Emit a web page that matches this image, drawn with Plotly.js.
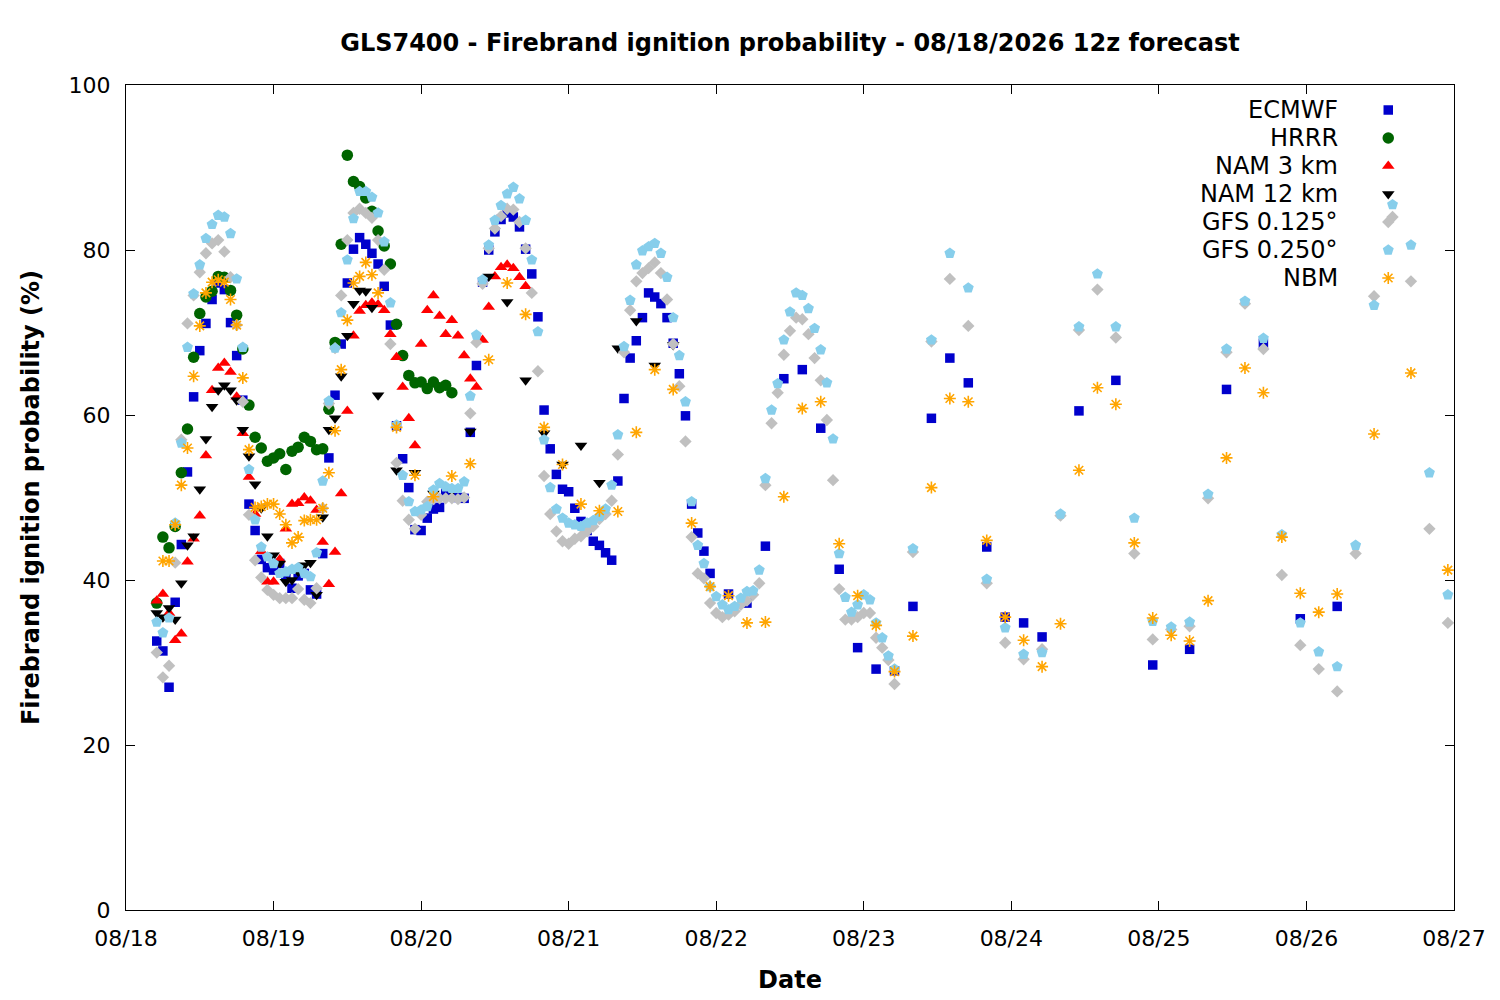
<!DOCTYPE html>
<html><head><meta charset="utf-8">
<script src="https://cdn.plot.ly/plotly-3.0.1.min.js"></script>
<style>html,body{margin:0;padding:0;background:#fff}</style>
</head><body><div id="chart" style="width:1500px;height:1000px"></div>
<script>
// Run start (08/18/2026 12z) expressed in the axis' local time
const RUN_START = Date.UTC(2026, 7, 18, 5, 0, 0);
function span(a, b, s) { const r = []; for (let h = a; h <= b; h += s) r.push(h); return r; }

const SERIES_NAMES = ['ECMWF', 'HRRR', 'NAM 3 km', 'NAM 12 km', 'GFS 0.125°', 'GFS 0.250°', 'NBM'];
const X_TICK_LABELS = ['08/18','08/19','08/20','08/21','08/22','08/23','08/24','08/25','08/26','08/27'];
const Y_TICKS = [0, 20, 40, 60, 80, 100];

// forecast hours for each model
const ECMWF_HOURS = [...span(0, 90, 1), ...span(93, 144, 3), ...span(150, 192, 6)];
const HRRR_HOURS = span(0, 48, 1);
const NAM3_HOURS = span(0, 60, 1);
const NAM12_HOURS = [...span(0, 36, 1), ...span(39, 84, 3)];
const GFS125_HOURS = [...span(0, 120, 1), ...span(123, 210, 3)];
const GFS250_HOURS = [...span(0, 120, 1), ...span(123, 210, 3)];
const NBM_HOURS = [...span(1, 36, 1), ...span(39, 192, 3), ...span(198, 210, 6)];

// ignition probability (%)
const ECMWF = [32.6,31.4,27.0,37.3,44.3,53.1,62.2,67.8,71.1,74.0,76.0,75.2,71.2,67.2,61.8,49.2,46.0,42.5,41.5,41.2,
  42.0,40.5,39.0,40.5,40.8,38.8,38.3,43.2,54.8,62.4,68.6,76.0,80.1,81.5,80.7,79.6,78.3,75.6,70.9,58.7,
  54.7,51.2,46.1,46.0,47.5,48.6,48.8,50.5,50.6,50.0,49.9,57.9,66.0,76.1,80.0,82.2,83.7,84.5,84.0,82.8,
  80.1,77.1,71.9,60.6,55.9,52.8,51.0,50.7,48.7,47.1,46.0,44.7,44.2,43.3,42.4,52.0,62.0,66.9,69.0,71.8,
  74.8,74.3,73.5,71.8,68.7,65.0,59.9,49.2,45.7,43.5,40.8,
  38.3,37.2,44.1,64.4,65.5,58.4,41.3,31.8,29.2,29.0,36.8,59.6,66.9,63.9,44.0,35.5,34.8,33.1,
  60.5,64.2,29.7,31.6,63.1,68.7,35.3,36.8];
const HRRR = [37.2,45.2,43.9,46.5,53.0,58.3,67.0,72.3,74.3,75.0,76.8,76.7,75.1,72.1,68.0,61.2,57.3,56.0,54.4,54.8,
  55.3,53.4,55.6,56.1,57.3,56.8,55.8,55.9,60.7,68.8,80.7,91.5,88.3,87.7,86.3,84.7,82.3,80.5,78.3,71.0,
  67.2,64.8,63.9,64.0,63.2,64.0,63.3,63.6,62.7];
const NAM3 = [37.5,38.3,36.0,32.7,33.5,42.2,45.0,47.8,55.1,63.0,65.7,66.3,65.2,62.2,57.8,52.5,48.0,43.5,39.8,39.8,
  42.5,46.2,49.2,49.3,50.0,49.6,48.5,44.6,39.5,43.4,50.5,60.5,69.6,72.6,73.3,73.6,73.4,72.7,69.8,67.0,
  63.4,59.6,56.3,68.6,72.7,74.5,72.0,69.8,71.5,69.6,67.2,64.4,63.4,69.1,73.1,76.8,77.9,78.2,77.8,76.7,75.6];
const NAM12 = [36.0,35.5,36.6,35.2,39.6,44.2,45.3,51.0,57.1,61.0,63.0,63.6,63.0,61.8,58.2,55.0,51.6,48.7,45.3,43.0,
  42.0,39.8,40.0,41.0,41.8,42.1,38.2,47.6,58.2,59.6,64.7,69.6,73.5,75.1,75.0,73.0,62.4,
  53.3,53.0,50.5,50.8,58.0,76.8,73.7,64.2,57.8,54.0,56.3,51.8,68.1,71.4,66.0,68.5];
const GFS125 = [31.2,28.2,29.6,42.1,57.0,71.1,74.5,77.3,79.6,80.8,81.2,79.8,76.7,70.9,61.6,47.9,42.4,40.3,38.8,38.2,
  37.8,37.8,37.8,38.9,37.6,37.2,39.0,48.7,61.4,68.1,74.5,81.2,84.5,85.0,84.5,83.9,81.2,77.6,68.6,54.2,
  49.6,47.3,46.2,47.9,49.5,49.8,49.9,49.9,49.9,49.8,50.0,60.2,68.8,75.9,80.2,82.6,84.1,85.0,84.9,83.4,
  80.2,74.8,65.3,52.6,48.0,45.9,44.7,44.4,45.0,45.3,45.9,46.5,47.4,48.0,49.6,55.2,67.6,72.7,76.2,77.2,
  77.8,78.5,77.2,74.0,68.6,63.5,56.8,45.2,40.8,40.2,37.2,36.0,35.5,35.8,36.2,37.0,37.5,38.2,39.6,51.5,
  59.0,62.7,67.3,70.2,71.8,71.6,69.8,66.9,64.2,59.4,52.1,38.9,35.2,35.2,35.5,36.0,36.0,33.0,31.8,30.3,27.4,
  43.4,68.9,76.5,70.8,39.6,32.4,30.4,31.6,47.8,70.3,75.2,69.4,43.2,32.8,34.0,34.4,49.9,67.6,73.5,68.0,
  40.6,32.1,29.2,26.5,43.2,74.4,84.0,76.2,46.2,34.8];
const GFS250 = [34.9,33.6,35.4,46.9,56.6,68.2,74.7,78.2,81.4,83.1,84.2,84.0,82.0,76.5,68.2,53.4,47.3,44.0,42.8,42.0,
  40.8,41.0,41.3,41.5,40.8,40.4,43.3,52.0,61.7,68.1,72.4,78.8,83.8,87.1,87.1,86.4,84.5,81.0,73.6,58.8,
  52.7,49.5,48.3,48.5,48.9,50.9,51.7,51.3,51.1,51.1,51.9,62.3,69.7,76.4,80.6,83.6,85.4,86.8,87.6,86.2,
  83.6,78.8,70.1,57.0,51.2,48.6,47.5,46.9,46.7,46.5,46.9,47.2,47.7,48.6,51.5,57.6,68.3,73.9,78.2,79.9,
  80.4,80.8,79.6,76.7,71.8,67.2,61.6,49.5,44.2,42.0,39.2,38.0,37.0,36.4,36.8,37.8,38.6,38.7,41.2,52.3,
  60.6,63.8,69.1,72.5,74.8,74.5,72.9,70.5,67.9,63.9,57.1,43.2,37.9,36.1,37.0,38.2,37.6,34.8,33.0,30.8,29.2,
  43.8,69.1,79.6,75.4,40.1,34.2,31.0,31.2,48.0,70.7,77.1,70.7,47.5,35.0,34.3,34.9,50.4,68.0,73.8,69.3,
  45.5,34.8,31.3,29.5,44.2,73.3,85.5,80.6,53.0,38.2];
const NBM = [42.3,42.3,46.7,51.5,56.0,64.7,70.8,74.8,76.1,76.4,76.1,74.0,70.9,64.5,55.8,48.8,48.9,49.2,49.2,48.0,
  46.7,44.5,45.2,47.2,47.3,47.3,48.7,53.0,58.1,65.5,71.5,76.0,76.8,78.5,77.0,74.8,
  58.5,52.7,50.1,52.6,54.1,66.7,76.0,72.2,58.5,54.0,49.2,48.4,48.3,57.9,65.5,63.1,46.9,39.2,38.1,34.8,
  34.9,50.1,60.8,61.6,44.4,38.1,34.5,28.9,33.2,51.2,62.0,61.6,44.8,35.5,32.7,29.5,34.7,53.3,63.3,61.3,
  44.5,35.4,33.3,32.6,37.5,54.8,65.7,62.7,45.2,38.4,36.1,38.3,
  57.7,65.1,41.2];

const HOURS = [ECMWF_HOURS, HRRR_HOURS, NAM3_HOURS, NAM12_HOURS, GFS125_HOURS, GFS250_HOURS, NBM_HOURS];
const VALUES = [ECMWF, HRRR, NAM3, NAM12, GFS125, GFS250, NBM];

const STYLES = [
  {symbol: 'square', size: 9.5, color: '#0000cc'},
  {symbol: 'circle', size: 11.5, color: '#006400'},
  {symbol: 'triangle-up', size: 11, color: '#ff0000'},
  {symbol: 'triangle-down', size: 11, color: '#000000'},
  {symbol: 'diamond', size: 9.5, color: '#c0c0c0'},
  {symbol: 'pentagon', size: 11.5, color: '#87ceeb'},
  {symbol: 'asterisk-open', size: 10, color: '#ffa500', open: true}
];

function toDate(h) {
  return new Date(RUN_START + h * 3600000).toISOString().slice(0, 19).replace('T', ' ');
}
function markerFor(st) {
  return st.open
    ? {symbol: st.symbol, size: st.size, color: st.color, line: {color: st.color, width: 1.6}}
    : {symbol: st.symbol, size: st.size, color: st.color, line: {width: 0}};
}

const FONT = 'DejaVu Sans, Liberation Sans, sans-serif';
const traces = SERIES_NAMES.map((name, i) => ({
  type: 'scatter', mode: 'markers', name: name,
  x: HOURS[i].map(toDate), y: VALUES[i],
  marker: markerFor(STYLES[i]), showlegend: false, hoverinfo: 'x+y+name'
}));

// legend key (gnuplot-style: text right-aligned, key symbol on the right)
const KEY_TEXT_X = 0.9145, KEY_SYM_X = 0.9505, KEY_TOP = 0.9697, KEY_STEP = 28 / 825;
const annotations = [];
SERIES_NAMES.forEach((name, i) => {
  const yk = KEY_TOP - i * KEY_STEP;
  annotations.push({xref: 'paper', yref: 'paper', x: KEY_TEXT_X, y: yk, xanchor: 'right', yanchor: 'middle',
    text: name, showarrow: false, font: {family: FONT, size: 24, color: '#000'}});
  traces.push({type: 'scatter', mode: 'markers', x: [KEY_SYM_X], y: [yk], xaxis: 'x2', yaxis: 'y2',
    marker: markerFor(STYLES[i]), showlegend: false, hoverinfo: 'skip', cliponaxis: false});
});

const tickVals = X_TICK_LABELS.map((t, i) => toDate(-5 + 24 * i));

const layout = {
  width: 1500, height: 1000,
  paper_bgcolor: '#fff', plot_bgcolor: '#fff',
  margin: {l: 126, r: 46, t: 85, b: 90, pad: 0},
  font: {family: FONT, size: 22, color: '#000'},
  title: {text: '<b>GLS7400 - Firebrand ignition probability - 08/18/2026 12z forecast</b>',
    x: 0.5, xref: 'paper', xanchor: 'center', y: 0.957, yref: 'container', yanchor: 'middle',
    font: {family: FONT, size: 24, color: '#000'}},
  xaxis: {type: 'date', range: [tickVals[0], tickVals[tickVals.length - 1]],
    tickvals: tickVals, ticktext: X_TICK_LABELS,
    showline: true, linecolor: '#000', linewidth: 1, mirror: 'ticks',
    ticks: 'inside', ticklen: 9, tickcolor: '#000', tickwidth: 1, ticklabelstandoff: 9,
    showgrid: false, zeroline: false, tickfont: {family: FONT, size: 22},
    title: {text: '<b>Date</b>', font: {family: FONT, size: 24}, standoff: 20}},
  yaxis: {range: [0, 100], tickvals: Y_TICKS,
    showline: true, linecolor: '#000', linewidth: 1, mirror: 'ticks',
    ticks: 'inside', ticklen: 9, tickcolor: '#000', tickwidth: 1, ticklabelstandoff: 10,
    showgrid: false, zeroline: false, tickfont: {family: FONT, size: 22},
    title: {text: '<b>Firebrand ignition probability (%)</b>', font: {family: FONT, size: 24}, standoff: 22}},
  xaxis2: {overlaying: 'x', range: [0, 1], visible: false, fixedrange: true},
  yaxis2: {overlaying: 'y', range: [0, 1], visible: false, fixedrange: true},
  showlegend: false,
  annotations: annotations
};

Plotly.newPlot('chart', traces, layout, {displayModeBar: false, staticPlot: true});
</script></body></html>
